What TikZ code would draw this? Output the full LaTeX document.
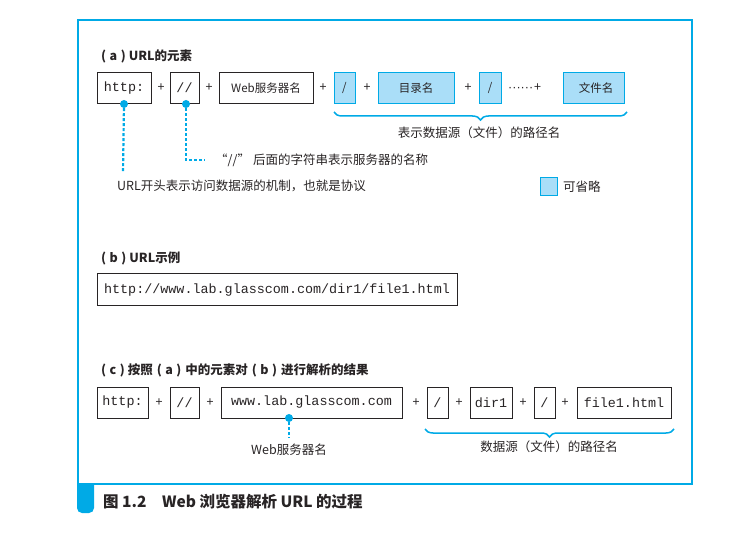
\documentclass[tikz,border=0pt]{standalone}
\usepackage{fontspec}
\setmainfont{Noto Sans CJK SC}
\setmonofont{Liberation Mono}
\newfontfamily\dotfont{Liberation Sans}
\usepackage{tikz}
\usetikzlibrary{decorations.pathreplacing}
\definecolor{framecol}{RGB}{0,170,230}
\definecolor{optcol}{RGB}{170,222,248}
\definecolor{inkcol}{RGB}{40,36,37}
\newcommand{\pl}[1]{(\hspace{3.5pt}#1\hspace{3.5pt})}
\tikzset{part/.style={draw=inkcol,line width=1pt,minimum height=31pt,inner sep=0pt,text=inkcol,font=\fontsize{11.5}{14}\selectfont},
  opt/.style={part,draw=framecol,fill=optcol},
  url/.style={font=\fontsize{13.4}{15}\ttfamily},
  plus/.style={text=inkcol,font=\fontsize{12.5}{14}\selectfont,inner sep=0pt},
  lbl/.style={text=inkcol,font=\fontsize{12.5}{15}\selectfont,inner sep=0pt},
  ttl/.style={lbl,font=\fontsize{12.5}{15}\selectfont\bfseries,anchor=west},
  pin/.style={circle,fill=framecol,inner sep=0pt,minimum size=8pt},
  lead/.style={framecol,line width=2.2pt,dash pattern=on 3pt off 2pt},
  brc/.style={framecol,line width=1.5pt,decorate,decoration={brace,amplitude=8pt}}}

\begin{document}
\begin{tikzpicture}[x=1pt,y=-1pt]
        \useasboundingbox (0,0) rectangle (753,540);
        \draw[framecol,line width=2pt] (78,20) rectangle (692,484);
        \fill[framecol] (77,483) [rounded corners=5pt] -- (77,513) -- (94,513) [sharp corners] -- (94,483) -- cycle;
        \node[anchor=west,text=inkcol,inner sep=0pt,font=\fontsize{15.5}{18}\selectfont\bfseries] (caption) at (103,502) {图 1.2\quad Web 浏览器解析 URL 的过程};

        \node[ttl] (ta) at (101,56) {\pl{a}\hspace{3pt}URL的元素};
        \node[part,url,minimum width=54pt] (ahttp) at (124,88) {http:};
        \node[plus] (ap1) at (161,88) {+};
        \node[part,url,minimum width=29pt] (aslashes) at (184.5,88) {//};
        \node[plus] (ap2) at (209,88) {+};
        \node[part,minimum width=94pt] (aweb) at (266,88) {Web服务器名};
        \node[plus] (ap3) at (323,88) {+};
        \node[opt,minimum width=21pt] (asep1) at (344.5,88) {/};
        \node[plus] (ap4) at (367,88) {+};
        \node[opt,minimum width=76pt] (adir) at (416,88) {目录名};
        \node[plus] (ap5) at (468,88) {+};
        \node[opt,minimum width=22pt] (asep2) at (490,88) {/};
        \node[plus,anchor=west] (ap6) at (508,88) {{\dotfont ······}\hspace{1pt}+};
        \node[opt,minimum width=61pt] (afile) at (593.5,88) {\hspace{5pt}文件名};

        \draw[brc] (627,112) -- (334,112);
        \node[lbl] (apath) at (479,133) {表示数据源（文件）的路径名};

        \node[pin] (pa) at (ahttp.south) {};
        \node[pin] (pb) at ([xshift=1.5pt]aslashes.south) {};
        \coordinate (ka) at (123,173);
        \coordinate (kb) at (205,160);
        \draw[lead] (pa) -- (ka);
        \draw[lead] (pb) |- (kb);
        \node[lbl,anchor=west] (nb) at (215,160) {“//”\hspace{3pt}后面的字符串表示服务器的名称};
        \node[lbl,anchor=west] (na) at (117,186) {URL开头表示访问数据源的机制，也就是协议};

        \node[opt,minimum width=17pt,minimum height=18pt] (key) at (548.5,187) {};
        \node[lbl,anchor=west] (keytext) at (563,187) {可省略};

        \node[ttl] (tb) at (101,258) {\pl{b}\hspace{3pt}URL示例};
        \node[part,url,minimum width=360pt,minimum height=32pt] (burl) at (277,290) {http://www.lab.glasscom.com/dir1/file1.html};

        \node[ttl] (tc) at (101,370) {\pl{c}\hspace{3pt}按照\hspace{4pt}\pl{a}\hspace{4pt}中的元素对\hspace{4pt}\pl{b}\hspace{4pt}进行解析的结果};
        \node[part,url,minimum width=51pt] (chttp) at (122.5,402.5) {http:};
        \node[plus] (cp1) at (159,402.5) {+};
        \node[part,url,minimum width=29pt] (cslashes) at (184.5,402.5) {//};
        \node[plus] (cp2) at (210,402.5) {+};
        \node[part,url,minimum width=181pt] (chost) at (311.5,402.5) {www.lab.glasscom.com};
        \node[plus] (cp3) at (416,402.5) {+};
        \node[part,url,minimum width=21pt] (csep1) at (437.5,402.5) {/};
        \node[plus] (cp4) at (459,402.5) {+};
        \node[part,url,minimum width=42pt] (cdir) at (491,402.5) {dir1};
        \node[plus] (cp5) at (523,402.5) {+};
        \node[part,url,minimum width=21pt] (csep2) at (544.5,402.5) {/};
        \node[plus] (cp6) at (565,402.5) {+};
        \node[part,url,minimum width=94pt] (cfile) at (624,402.5) {file1.html};

        \node[pin] (pc) at (289,418) {};
        \coordinate (kc) at (289,438);
        \draw[lead] (pc) -- (kc);
        \node[lbl] (nc) at (289,450) {Web服务器名};

        \draw[brc] (674,429) -- (425,429);
        \node[lbl] (cpath) at (549,447) {数据源（文件）的路径名};
\end{tikzpicture}
\end{document}
